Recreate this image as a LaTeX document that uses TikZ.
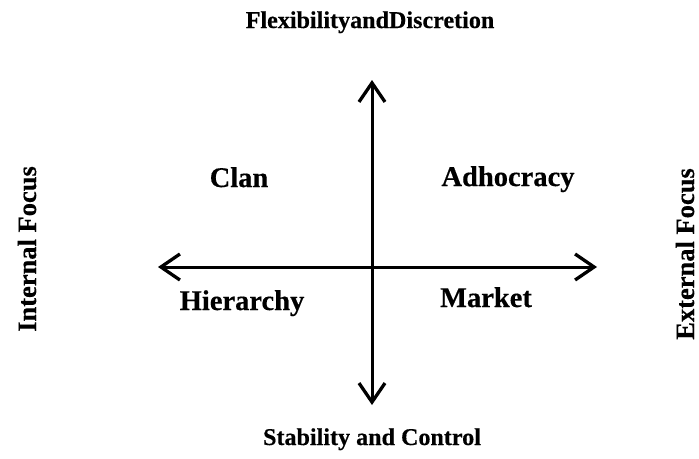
\documentclass[tikz,border=0pt]{standalone}
\usepackage{fontspec}
\setmainfont{Liberation Serif}[BoldFeatures={FakeBold=0.4}]
\usetikzlibrary{arrows.meta}
\begin{document}
\begin{tikzpicture}[x=1pt,y=-1pt,
  axis/.style={line width=3pt,{Straight Barb[length=19pt,width=26pt,line width=3.3pt]}-{Straight Barb[length=19pt,width=26pt,line width=3.3pt]}},
  quad/.style={anchor=base,inner sep=0pt,font=\bfseries\fontsize{28.5}{32}\selectfont},
  lab/.style={anchor=base,inner sep=0pt,font=\bfseries\fontsize{24.1}{26}\selectfont},
  side/.style={anchor=base,inner sep=0pt,rotate=90,font=\bfseries\fontsize{26.5}{30}\selectfont}]
\useasboundingbox (0,0) rectangle (699,458);
\coordinate (top) at (372,80);
\coordinate (bot) at (372,405);
\coordinate (left) at (158,267);
\coordinate (right) at (597,267);
\draw[axis] (top) -- (bot);
\draw[axis] (left) -- (right);
\node[lab] (title) at (370,28) {FlexibilityandDiscretion};
\node[lab] (stab) at (372,445) {Stability and Control};
\node[side] (int) at (36,249) {Internal Focus};
\node[side] (ext) at (694,254) {External Focus};
\node[quad] (clan) at (239,187) {Clan};
\node[quad] (adh) at (508,186) {Adhocracy};
\node[quad] (hier) at (242,310) {Hierarchy};
\node[quad] (mkt) at (486,307) {Market};
\end{tikzpicture}
\end{document}
